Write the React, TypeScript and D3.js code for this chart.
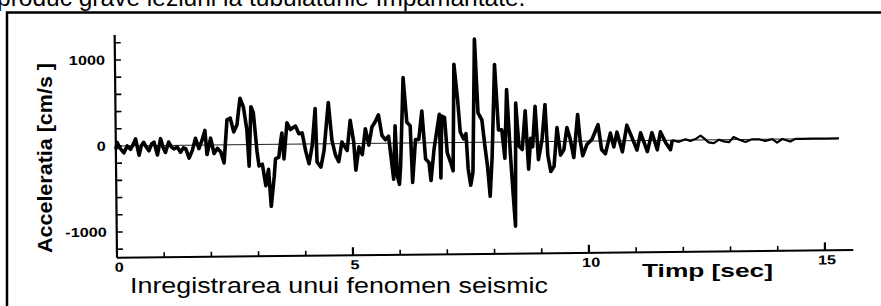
import React from 'react'
import * as d3 from 'd3'

const width = 881
const height = 306

// accelerogram: time [sec] and acceleration [cm/s2]
const timeSec = [
    0.0, 0.03, 0.08, 0.17, 0.24, 0.31, 0.37, 0.42, 0.49, 0.54, 0.59, 0.65, 0.7, 0.76, 0.81, 0.88, 0.95, 1.0,
    1.05, 1.12, 1.18, 1.23, 1.3, 1.37, 1.43, 1.48, 1.55, 1.62, 1.69, 1.76, 1.83, 1.89, 1.93, 2.01, 2.08, 2.15,
    2.22, 2.29, 2.36, 2.43, 2.5, 2.57, 2.64, 2.71, 2.78, 2.82, 2.87, 2.92, 2.99, 3.03, 3.1, 3.17, 3.23, 3.28,
    3.35, 3.38, 3.45, 3.49, 3.52, 3.56, 3.63, 3.7, 3.81, 3.88, 3.95, 4.02, 4.09, 4.16, 4.23, 4.26, 4.34, 4.41,
    4.51, 4.58, 4.65, 4.72, 4.79, 4.9, 4.97, 5.04, 5.08, 5.15, 5.22, 5.29, 5.36, 5.43, 5.5, 5.57, 5.64, 5.71,
    5.78, 5.88, 5.92, 5.96, 6.0, 6.03, 6.1, 6.17, 6.24, 6.28, 6.35, 6.42, 6.49, 6.56, 6.63, 6.67, 6.74, 6.81,
    6.86, 6.88, 6.91, 6.97, 7.02, 7.09, 7.14, 7.18, 7.25, 7.3, 7.37, 7.42, 7.46, 7.51, 7.56, 7.62, 7.68, 7.76,
    7.82, 7.87, 7.92, 7.97, 8.04, 8.11, 8.18, 8.24, 8.29, 8.36, 8.41, 8.45, 8.48, 8.54, 8.61, 8.68, 8.74, 8.79,
    8.83, 8.89, 8.95, 9.03, 9.1, 9.15, 9.21, 9.28, 9.35, 9.42, 9.49, 9.56, 9.63, 9.7, 9.79, 9.84, 9.89, 9.98,
    10.09, 10.22, 10.29, 10.37, 10.48, 10.55, 10.62, 10.73, 10.83, 10.94, 11.04, 11.12, 11.26, 11.36, 11.47,
    11.54, 11.65, 11.75, 11.79, 11.93, 12.07, 12.17, 12.28, 12.39, 12.46, 12.56, 12.67, 12.78, 12.88, 12.99,
    13.09, 13.2, 13.34, 13.48, 13.62, 13.76, 13.91, 14.01, 14.12, 14.29, 14.4, 14.54, 14.75, 15.04, 15.32,
]
const accel = [
    -40, 40, -20, -80, 0, -40, 20, 80, -110, 0, 40, -20, -60, 20, 40, -110, 80, -20,
    -80, 40, -20, -40, -20, -80, -30, -40, -150, -60, 80, -40, 60, 170, -110, 80, -100, -40,
    -80, -210, 290, 310, 150, 230, 540, 440, 170, -250, 440, 370, -80, -250, -230, -480, -290, -720,
    -370, -170, -150, 20, 130, -170, 250, 170, 210, 120, 130, -80, -230, -20, 410, -210, -270, -80,
    480, 40, -130, -210, 20, -80, 270, 20, -310, -40, -130, 170, -20, 190, 250, 330, 90, 40,
    80, -420, 200, -380, -480, -260, 760, 240, 200, -460, 40, 40, 370, -190, -230, -440, -80, 160,
    330, -410, 310, 290, -120, -230, -330, 910, 500, 120, 40, 100, -310, -500, -350, 1200, 340, 260,
    -50, -280, -630, -170, 900, 140, 140, -190, 610, -170, -630, -980, 450, -50, -90, 360, -320, 40,
    -60, 410, -210, 20, 430, -160, -350, -290, 160, -160, -100, 160, 20, -190, 310, 0, -170, -40,
    20, 190, -100, -150, 90, -70, 100, -130, 180, 30, -110, 90, -130, 90, -110,
    100, -30, -110, 0, -20, 10, -10, 10, 50, 20, -30, -40, 0, -20, -30,
    30, 0, -30, 0, 0, -20, 0, -40, 0, -30, 0, 0, 0, 0, 0,
]

const yTickLabels = [1000, 0, -1000]
const xTickLabels = [0, 5, 10, 15]

const xScale = d3.scaleLinear().domain([0, 15]).range([117, 825])
const yScale = d3.scaleLinear().domain([-1000, 1000]).range([232, 60])

const points: [number, number][] = timeSec.map((t, i) => [t, accel[i]])
const strongPart = points.filter((d) => d[0] <= 11.79)
const tailPart = points.filter((d) => d[0] >= 11.79)

const line = d3
    .line<[number, number]>()
    .x((d) => xScale(d[0]))
    .y((d) => yScale(d[1]))

const yMinor = d3.range(-1200, 1201, 200)
const xMinor = d3.range(1, 16, 1)

const App = () => {
    const axisY = yScale(-1300)
    return (
        <svg
            width={width}
            height={height}
            style={{ position: 'absolute', left: 0, top: 0, background: '#fff' }}
            fontFamily="'Liberation Sans', Arial, sans-serif"
        >
            <text x={-3} y={6} fontSize={24.5} fill="#000">
                produc grave leziuni la tubulaturile împământate.
            </text>
            <rect x={7} y={12.5} width={890} height={310} fill="none" stroke="#000" strokeWidth={2.5} />

            <text
                transform={`translate(52, 158) rotate(-90)`}
                textAnchor="middle"
                fontSize={21}
                fontWeight="bold"
                textLength={190}
                lengthAdjust="spacingAndGlyphs"
            >
                Acceleratia [cm/s ]
            </text>

            <g transform={`rotate(-0.6 117 ${axisY})`}>
                {/* zero reference */}
                <line x1={xScale(0)} x2={xScale(15.32)} y1={yScale(0)} y2={yScale(0)} stroke="#222" strokeWidth={1} />

                {/* y axis */}
                <line x1={xScale(0)} x2={xScale(0)} y1={yScale(1290)} y2={axisY} stroke="#000" strokeWidth={2.2} />
                {yMinor.map((v) => (
                    <line
                        key={v}
                        x1={xScale(0)}
                        x2={xScale(0) + 6}
                        y1={yScale(v)}
                        y2={yScale(v)}
                        stroke="#000"
                        strokeWidth={1.6}
                    />
                ))}
                {yTickLabels.map((v) => (
                    <text
                        key={v}
                        transform={`translate(107, ${yScale(v) + 4.5}) scale(1.25, 1)`}
                        textAnchor="end"
                        fontSize={13}
                        fontWeight="bold"
                    >
                        {v === 0 ? '0' : v < 0 ? '-' + Math.abs(v) : v}
                    </text>
                ))}

                {/* x axis */}
                <line x1={xScale(0)} x2={xScale(15.6)} y1={axisY} y2={axisY} stroke="#000" strokeWidth={2} />
                {xMinor.map((t) => (
                    <line
                        key={t}
                        x1={xScale(t)}
                        x2={xScale(t)}
                        y1={axisY}
                        y2={axisY - (t % 5 === 0 ? 8 : 5)}
                        stroke="#000"
                        strokeWidth={t % 5 === 0 ? 2.2 : 1.6}
                    />
                ))}
                {xTickLabels.map((t) => (
                    <text
                        key={t}
                        transform={`translate(${xScale(t) + 2}, ${axisY + 14}) scale(1.25, 1)`}
                        textAnchor="middle"
                        fontSize={13}
                        fontWeight="bold"
                    >
                        {t}
                    </text>
                ))}

                <path d={line(strongPart) || ''} fill="none" stroke="#000" strokeWidth={3.6} strokeLinejoin="round" />
                <path d={line(tailPart) || ''} fill="none" stroke="#000" strokeWidth={2.2} strokeLinejoin="round" />
            </g>

            <text x={642} y={277} fontSize={19} fontWeight="bold" textLength={131} lengthAdjust="spacingAndGlyphs">
                Timp [sec]
            </text>
            <text x={130} y={293} fontSize={22} textLength={418} lengthAdjust="spacingAndGlyphs">
                Inregistrarea unui fenomen seismic
            </text>
        </svg>
    )
}

export default App
